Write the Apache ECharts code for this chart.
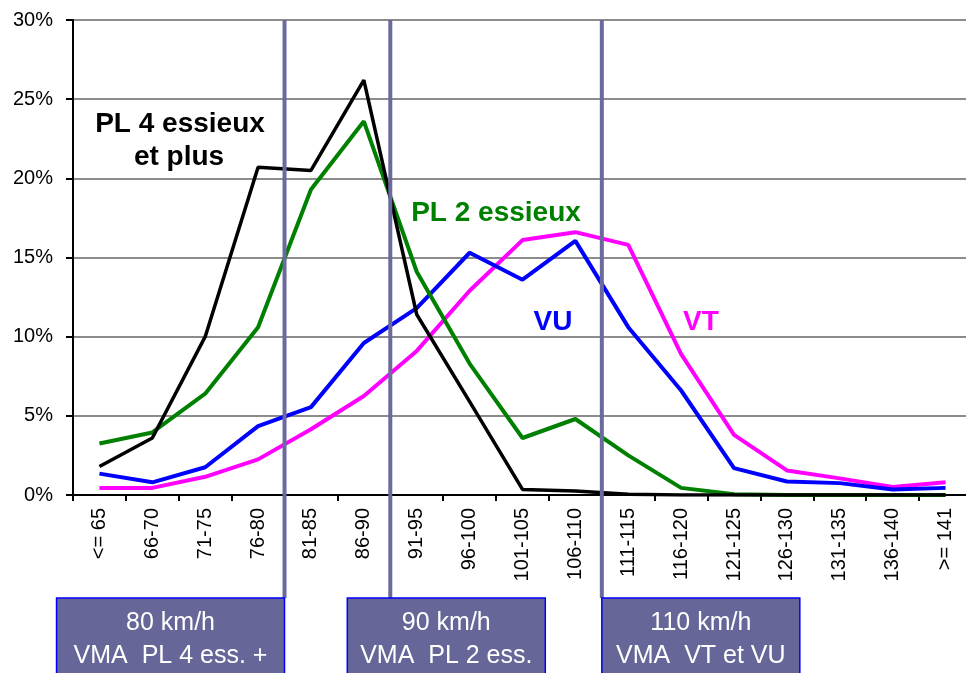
<!DOCTYPE html>
<html>
<head>
<meta charset="utf-8">
<title>Répartition des vitesses</title>
<script src="https://cdn.jsdelivr.net/npm/echarts@6/dist/echarts.min.js"></script>
<style>
  html, body { margin: 0; padding: 0; background: #fff; }
  #main { width: 966px; height: 673px; }
</style>
</head>
<body>
<div id="main"></div>
<script type="text/javascript">
// classes de vitesse (km/h)
var categories = ['<= 65', '66-70', '71-75', '76-80', '81-85', '86-90', '91-95', '96-100', '101-105',
  '106-110', '111-115', '116-120', '121-125', '126-130', '131-135', '136-140', '>= 141'];

// part des véhicules par classe (%)
var pl4 = [1.8, 3.6, 10.0, 20.7, 20.5, 26.2, 11.4, 5.9, 0.35, 0.25, 0.05, 0, 0, 0, 0, 0, 0];
var pl2 = [3.25, 3.95, 6.4, 10.6, 19.3, 23.6, 14.1, 8.3, 3.6, 4.8, 2.5, 0.45, 0.05, 0, 0, 0, 0];
var vu = [1.35, 0.8, 1.75, 4.35, 5.55, 9.6, 11.8, 15.3, 13.6, 16.05, 10.6, 6.6, 1.7, 0.85, 0.75, 0.35, 0.45];
var vt = [0.45, 0.45, 1.15, 2.25, 4.15, 6.25, 9.1, 12.9, 16.1, 16.6, 15.8, 8.9, 3.8, 1.55, 1.05, 0.5, 0.8];

// limites de vitesse : séparation après la classe d'indice "after"
var limits = [
  { after: 3, title: '80 km/h', sub: 'VMA  PL 4 ess. +', boxLeft: -228, boxWidth: 228 },
  { after: 5, title: '90 km/h', sub: 'VMA  PL 2 ess.', boxLeft: -43, boxWidth: 198 },
  { after: 9, title: '110 km/h', sub: 'VMA  VT et VU', boxLeft: 0, boxWidth: 198 }
];

var font = "Arial, 'Liberation Sans', sans-serif";
var myChart = echarts.init(document.getElementById('main'));

function serie(name, data, color, width) {
  return {
    name: name,
    type: 'line',
    data: data,
    symbol: 'none',
    animation: false,
    lineStyle: { color: color, width: width },
    itemStyle: { color: color }
  };
}

var option = {
  backgroundColor: '#fff',
  animation: false,
  grid: { left: 73, top: 20, width: 899, height: 475, containLabel: false, outerBoundsMode: 'none' },
  xAxis: {
    type: 'category',
    data: categories,
    boundaryGap: true,
    axisLine: { lineStyle: { color: '#000', width: 2 } },
    axisTick: { show: true, length: 6, lineStyle: { color: '#000', width: 2 } },
    axisLabel: { rotate: 90, margin: 13, color: '#000', fontSize: 20, fontFamily: font, interval: 0 },
    splitLine: { show: false }
  },
  yAxis: {
    type: 'value',
    min: 0,
    max: 30,
    interval: 5,
    axisLine: { show: true, lineStyle: { color: '#000', width: 2 } },
    axisTick: { show: true, length: 7, lineStyle: { color: '#000', width: 2 } },
    axisLabel: { formatter: '{value}%', color: '#000', fontSize: 20, fontFamily: font, margin: 20 },
    splitLine: { show: true, lineStyle: { color: '#8c8c8c', width: 2 } }
  },
  series: [
    serie('VT', vt, '#ff00ff', 4),
    serie('VU', vu, '#0000ff', 4),
    serie('PL 2 essieux', pl2, '#008000', 4),
    serie('PL 4 essieux et plus', pl4, '#000000', 3.5)
  ]
};
myChart.setOption(option);

// lignes verticales et cartouches des VMA, placées avec l'échelle de l'axe
function drawMarks() {
  var els = [];
  var top = myChart.convertToPixel({ yAxisIndex: 0 }, 30);
  limits.forEach(function (l) {
    var a = myChart.convertToPixel({ xAxisIndex: 0 }, l.after);
    var b = myChart.convertToPixel({ xAxisIndex: 0 }, l.after + 1);
    var x = (a + b) / 2;
    els.push({
      type: 'line', z: 50,
      shape: { x1: x, y1: top, x2: x, y2: 598 },
      style: { stroke: '#6a6a9c', lineWidth: 4 }
    });
    els.push({
      type: 'rect', z: 51,
      shape: { x: x + l.boxLeft, y: 598, width: l.boxWidth, height: 100 },
      style: { fill: '#666699', stroke: '#0000ff', lineWidth: 1.5 }
    });
    els.push({
      type: 'text', z: 52,
      style: {
        x: x + l.boxLeft + l.boxWidth / 2, y: 623, text: l.title,
        fill: '#fff', font: '25px ' + font, textAlign: 'center', textVerticalAlign: 'middle'
      }
    });
    els.push({
      type: 'text', z: 52,
      style: {
        x: x + l.boxLeft + l.boxWidth / 2, y: 656, text: l.sub,
        fill: '#fff', font: '25px ' + font, textAlign: 'center', textVerticalAlign: 'middle'
      }
    });
  });

  // étiquettes des courbes
  var labels = [
    { text: 'PL 4 essieux', x: 180, y: 124, color: '#000' },
    { text: 'et plus', x: 179, y: 157, color: '#000' },
    { text: 'PL 2 essieux', x: 496, y: 213, color: '#008000' },
    { text: 'VU', x: 553, y: 322, color: '#0000ff' },
    { text: 'VT', x: 701, y: 322, color: '#ff00ff' }
  ];
  labels.forEach(function (t) {
    els.push({
      type: 'text', z: 40,
      style: {
        x: t.x, y: t.y, text: t.text, fill: t.color,
        font: 'bold 28px ' + font, textAlign: 'center', textVerticalAlign: 'middle'
      }
    });
  });
  myChart.setOption({ graphic: els });
}
drawMarks();
</script>
</body>
</html>
